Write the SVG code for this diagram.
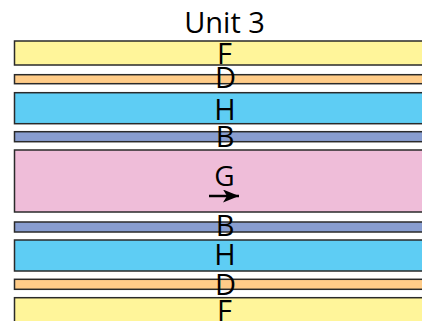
<svg xmlns="http://www.w3.org/2000/svg" width="422" height="321" viewBox="0 0 422 321">
<style>
.band{stroke:#2a2a2a;stroke-width:1.5}
.f{fill:#fff59a}.d{fill:#ffcc88}.h{fill:#5ecdf4}.b{fill:#889dd0}.g{fill:#efbdd9}
text{font-family:"Open Sans","Liberation Sans",sans-serif;fill:#000;text-anchor:middle}
.lbl{font-size:29px}
.sm{font-size:28px}
</style>
<defs>
<marker id="ah" viewBox="0 0 16 13" refX="16" refY="6.5" markerWidth="16" markerHeight="13" markerUnits="userSpaceOnUse" orient="auto">
<path d="M0,0 L16,6.5 L0,13 L4,6.5 Z" fill="#000"/>
</marker>
</defs>
<rect width="422" height="321" fill="#fff"/>
<text x="224.5" y="33.3" class="lbl">Unit 3</text>
<g id="F1"><rect class="band f" x="14.5" y="41" width="420" height="24"/><text class="lbl" x="224.5" y="64">F</text></g>
<g id="D1"><rect class="band d" x="14.5" y="74.7" width="420" height="9"/><text class="lbl" x="225.5" y="88.3">D</text></g>
<g id="H1"><rect class="band h" x="14.5" y="92.7" width="420" height="31"/><text class="lbl" x="225" y="120">H</text></g>
<g id="B1"><rect class="band b" x="14.5" y="131.7" width="420" height="10"/><text class="lbl" x="225" y="147.3">B</text></g>
<g id="G"><rect class="band g" x="14.5" y="150" width="420" height="62"/><text class="sm" x="224.5" y="185.5">G</text></g>
<g id="B2"><rect class="band b" x="14.5" y="222" width="420" height="10"/><text class="lbl" x="225" y="236">B</text></g>
<g id="H2"><rect class="band h" x="14.5" y="240" width="420" height="31"/><text class="lbl" x="225" y="265.3">H</text></g>
<g id="D2"><rect class="band d" x="14.5" y="279.3" width="420" height="10"/><text class="lbl" x="225.5" y="295">D</text></g>
<g id="F2"><rect class="band f" x="14.5" y="297.7" width="420" height="40"/><text class="lbl" x="224.5" y="320.5">F</text></g>
<g id="connectors"><line x1="209" y1="196" x2="239" y2="196" stroke="#000" stroke-width="2.5" marker-end="url(#ah)"/></g>
</svg>
